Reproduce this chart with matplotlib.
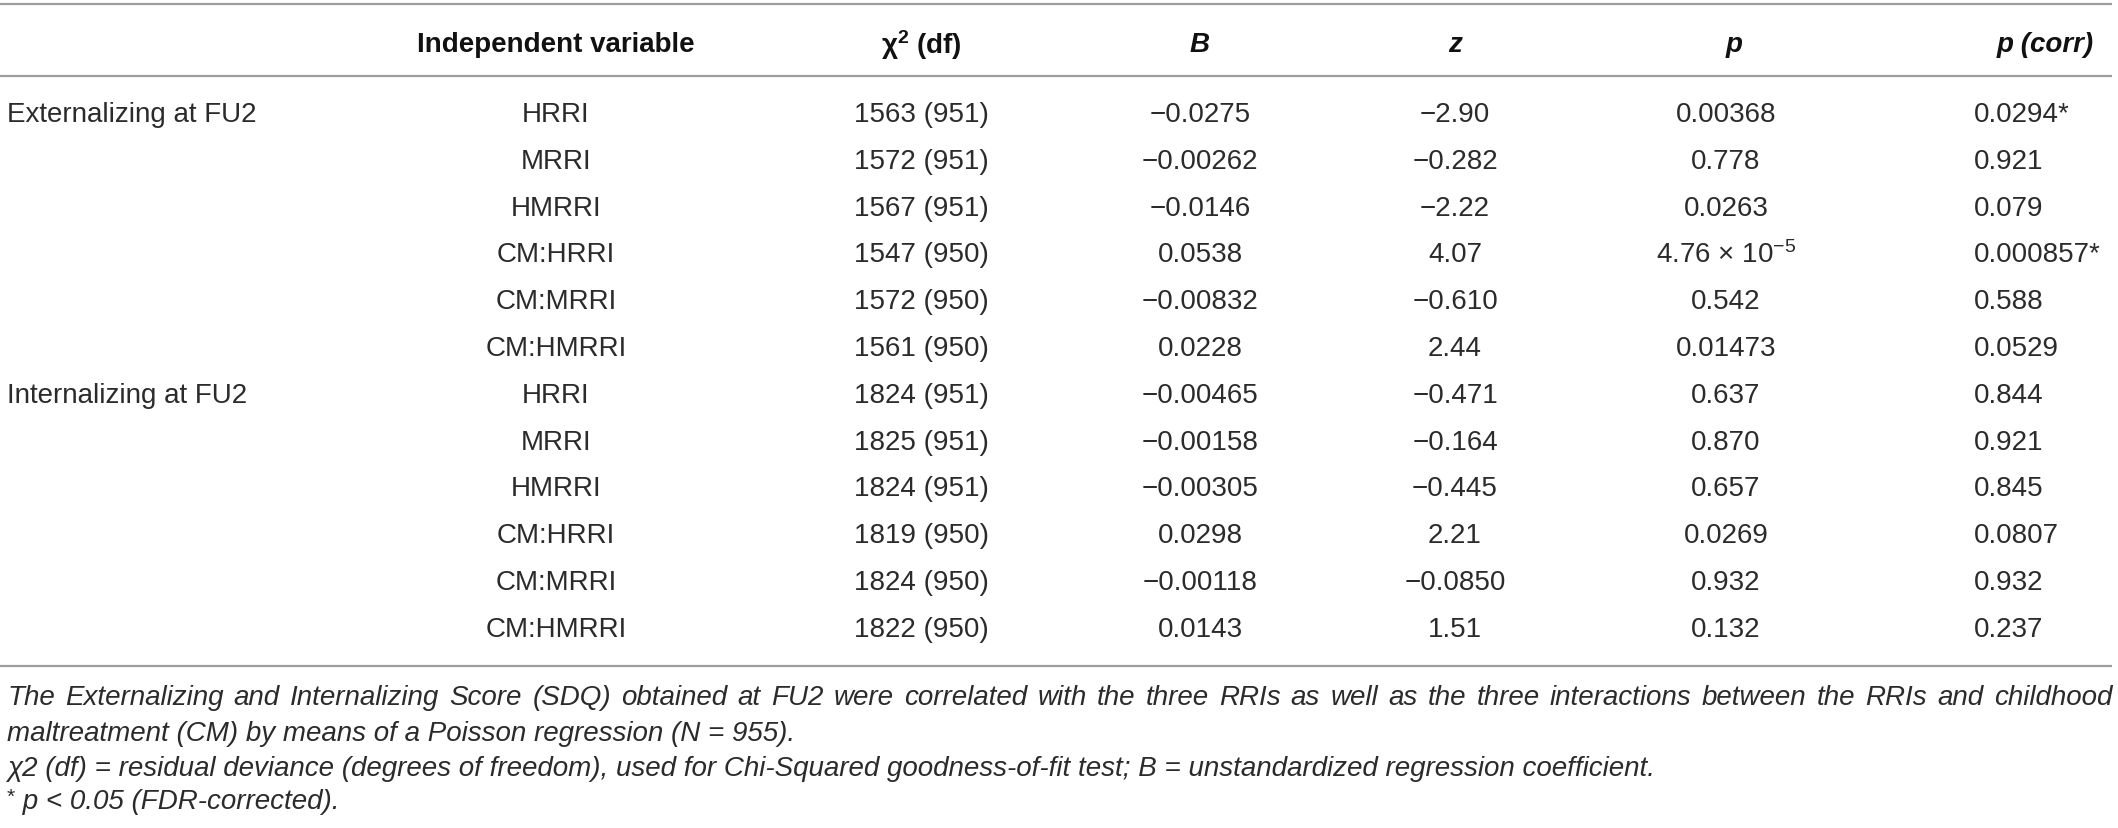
import matplotlib.pyplot as plt

plt.rcParams['font.family'] = ['Liberation Sans', 'DejaVu Sans']
plt.rcParams['mathtext.fontset'] = 'custom'
plt.rcParams['mathtext.rm'] = 'Liberation Sans'
plt.rcParams['mathtext.it'] = 'Liberation Sans:italic'
plt.rcParams['mathtext.bf'] = 'Liberation Sans:bold'

# 表格数据
outcomes = ['Externalizing at FU2', 'Internalizing at FU2']
predictors = ['HRRI', 'MRRI', 'HMRRI', 'CM:HRRI', 'CM:MRRI', 'CM:HMRRI']
chi2 = ['1563', '1572', '1567', '1547', '1572', '1561',
        '1824', '1825', '1824', '1819', '1824', '1822']
dof = ['951', '951', '951', '950', '950', '950',
       '951', '951', '951', '950', '950', '950']
coef_b = ['−0.0275', '−0.00262', '−0.0146', '0.0538', '−0.00832', '0.0228',
          '−0.00465', '−0.00158', '−0.00305', '0.0298', '−0.00118', '0.0143']
z_val = ['−2.90', '−0.282', '−2.22', '4.07', '−0.610', '2.44',
         '−0.471', '−0.164', '−0.445', '2.21', '−0.0850', '1.51']
p_val = ['0.00368', '0.778', '0.0263', '4.76 × 10$^{−5}$', '0.542', '0.01473',
         '0.637', '0.870', '0.657', '0.0269', '0.932', '0.132']
p_corr = ['0.0294*', '0.921', '0.079', '0.000857*', '0.588', '0.0529',
          '0.844', '0.921', '0.845', '0.0807', '0.932', '0.237']

notes = [
    'The Externalizing and Internalizing Score (SDQ) obtained at FU2 were correlated with the three RRIs as well as the three interactions between the RRIs and childhood',
    'maltreatment (CM) by means of a Poisson regression (N = 955).',
    'χ2 (df) = residual deviance (degrees of freedom), used for Chi-Squared goodness-of-fit test; B = unstandardized regression coefficient.',
    ' p < 0.05 (FDR-corrected).',
]

W, H = 2118, 829
fig = plt.figure(figsize=(W / 100, H / 100), dpi=100)
ax = fig.add_axes([0, 0, 1, 1])
ax.set_xlim(0, W)
ax.set_ylim(H, 0)
ax.axis('off')

fs = 20
txt_col = '#2b2b2b'
line_col = '#9e9e9e'

# 列位置
x_out = 7
x_iv = 556
x_chi = 921
x_b = 1200
x_z = 1455
x_p = 1726
x_pc = 1974
x_right = 2112

y_head = 45
y_row0 = 115
dy = 46.8

# 横线
for yl in [5, 77, 667]:
    ax.plot([0, x_right], [yl, yl], color=line_col, lw=1.6, solid_capstyle='butt')

# 表头
hkw = dict(fontsize=fs, fontweight='bold', va='center', color='#111111')
ax.text(x_iv, y_head, 'Independent variable', ha='center', **hkw)
ax.text(x_chi, y_head, 'χ$^{\\mathbf{2}}$ (df)', ha='center', **hkw)
ax.text(x_b, y_head, 'B', ha='center', style='italic', **hkw)
ax.text(x_z, y_head, 'z', ha='center', style='italic', **hkw)
ax.text(1734, y_head, 'p', ha='center', style='italic', **hkw)
ax.text(2094, y_head, 'p (corr)', ha='right', style='italic', **hkw)

# 数据行
rkw = dict(fontsize=fs, va='center', color=txt_col)
for i in range(12):
    y = y_row0 + i * dy
    if i % 6 == 0:
        ax.text(x_out, y, outcomes[i // 6], ha='left', **rkw)
    ax.text(x_iv, y, predictors[i % 6], ha='center', **rkw)
    ax.text(x_chi, y, f'{chi2[i]} ({dof[i]})', ha='center', **rkw)
    ax.text(x_b, y, coef_b[i], ha='center', **rkw)
    ax.text(x_z, y, z_val[i], ha='center', **rkw)
    ax.text(x_p, y, p_val[i], ha='center', **rkw)
    ax.text(x_pc, y, p_corr[i], ha='left', **rkw)

# 表注
y_notes = [698, 734, 769, 802]
nkw = dict(fontsize=fs, style='italic', va='center', color=txt_col)
fig.canvas.draw()
renderer = fig.canvas.get_renderer()

# 第一行两端对齐
words = notes[0].split(' ')
objs = [ax.text(0, y_notes[0], w, ha='left', **nkw) for w in words]
widths = [t.get_window_extent(renderer).width for t in objs]
gap = (x_right - x_out - sum(widths)) / (len(words) - 1)
xc = x_out
for t, w in zip(objs, widths):
    t.set_x(xc)
    xc += w + gap

ax.text(x_out, y_notes[1], notes[1], ha='left', **nkw)
ax.text(x_out, y_notes[2], notes[2], ha='left', **nkw)
star = ax.text(x_out, y_notes[3] - 5, '*', ha='left', fontsize=15,
               va='center', color=txt_col)
sw = star.get_window_extent(renderer).width
ax.text(x_out + sw, y_notes[3], notes[3], ha='left', **nkw)

plt.savefig('out.png', dpi=100)
plt.close()
